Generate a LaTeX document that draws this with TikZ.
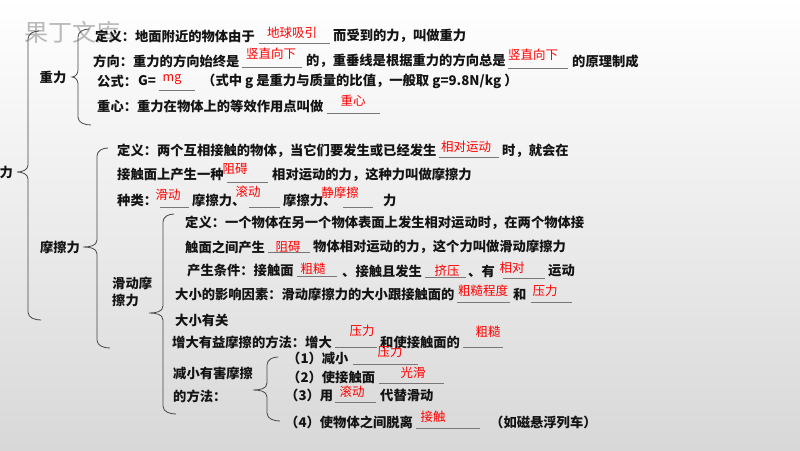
\documentclass[tikz,border=0pt]{standalone}
\usepackage{fontspec}
\setmainfont{Noto Sans CJK SC}
\definecolor{bgbot}{RGB}{216,216,216}
\definecolor{ink}{RGB}{20,20,20}
\definecolor{ansred}{RGB}{255,0,0}
\definecolor{uline}{RGB}{120,120,120}
\definecolor{brc}{RGB}{70,70,70}
\definecolor{wm}{RGB}{185,185,185}
\tikzset{
  txt/.style={anchor=west,inner sep=0pt,font=\fontsize{13.3}{15}\selectfont\bfseries,text=ink},
  lbl/.style={anchor=center,inner sep=0pt,font=\fontsize{13.3}{15}\selectfont\bfseries,text=ink},
  ans/.style={anchor=center,inner sep=0pt,font=\fontsize{12.5}{14}\selectfont,text=ansred},
  blank/.style={draw=uline,line width=1pt},
  brace/.style={draw=brc,line width=0.8pt},
}
\newcommand{\mybrace}[5]{% x, top, tipx, tipy, bottom
  \draw[brace] (#1+11,#2) to[out=180,in=90] (#1,#2+8) -- (#1,#4-7) to[out=-90,in=0] (#3,#4) to[out=0,in=90] (#1,#4+7) -- (#1,#5-8) to[out=-90,in=180] (#1+13,#5);}
\begin{document}
\begin{tikzpicture}[x=1pt,y=-1pt]
\shade[top color=white,bottom color=bgbot] (0,0) rectangle (800,450);
\useasboundingbox (0,0) rectangle (800,450);
% watermark
\node[anchor=center,inner sep=0pt,font=\fontsize{24}{26}\selectfont,text=wm] (wmk) at (72,32) {果丁文库};
% braces
\mybrace{28}{31}{17}{172}{320}
\mybrace{78}{29}{72}{77}{125}
\mybrace{97}{148}{83}{247}{348}
\mybrace{163}{214}{149}{313}{414}
\mybrace{267}{357}{253}{390}{421}
% labels
\node[lbl,anchor=east] (root) at (13,172) {力};
\node[lbl] (zl) at (53,77) {重力};
\node[lbl] (ml) at (60,247) {摩擦力};
\node[txt] (hl1) at (112,283) {滑动摩};
\node[txt] (hl2) at (112,300) {擦力};
% gravity
\node[txt] (g1a) at (95,36) {定义：地面附近的物体由于};
\node[txt] (g1b) at (333,36) {而受到的力，叫做重力};
\draw[blank] (259,43) -- (330,43);
\node[ans] (a1) at (292,33) {地球吸引};
\node[txt] (g2a) at (93,61) {方向：重力的方向始终是};
\node[txt] (g2b) at (306,61) {的，重垂线是根据重力的方向总是};
\node[txt] (g2c) at (572,61) {的原理制成};
\draw[blank] (242,67) -- (302,67);
\node[ans] (a2) at (271,54) {竖直向下};
\draw[blank] (508,68) -- (568,68);
\node[ans] (a3) at (533,55) {竖直向下};
\node[txt] (g3a) at (97,81) {公式：};
\node[txt] (g3b) at (138,81) {G=};
\node[txt] (g3c) at (202,81) {（式中 g 是重力与质量的比值，一般取 g=9.8N/kg ）};
\draw[blank] (159,90) -- (195,90);
\node[ans] (a4) at (172,80) {mg};
\node[txt] (g4a) at (97,106) {重心：重力在物体上的等效作用点叫做};
\draw[blank] (327,113) -- (380,113);
\node[ans] (a5) at (353,101) {重心};
% friction
\node[txt] (f1a) at (117,151) {定义：两个互相接触的物体，当它们要发生或已经发生};
\node[txt] (f1b) at (502,151) {时，就会在};
\draw[blank] (439,157) -- (499,157);
\node[ans] (a6) at (466,147) {相对运动};
\node[txt] (f2a) at (117,175) {接触面上产生一种};
\node[txt] (f2b) at (272,175) {相对运动的力，这种力叫做摩擦力};
\draw[blank] (227,182) -- (268,182);
\node[ans] (a7) at (235,169) {阻碍};
\node[txt] (f3a) at (117,200) {种类：};
\node[txt] (f3b) at (192,200) {摩擦力、};
\node[txt] (f3c) at (283,200) {摩擦力、};
\node[txt] (f3d) at (383,200) {力};
\draw[blank] (160,207) -- (189,207);
\node[ans] (a8) at (168,195) {滑动};
\draw[blank] (249,207) -- (280,207);
\node[ans] (a9) at (248,192) {滚动};
\draw[blank] (343,207) -- (373,207);
\node[ans] (a10) at (340,193) {静摩擦};
% sliding friction
\node[txt] (s1a) at (185,223) {定义：一个物体在另一个物体表面上发生相对运动时，在两个物体接};
\node[txt] (s2a) at (185,247) {触面之间产生};
\draw[blank] (268,252) -- (310,252);
\node[ans] (a11) at (288,247) {阻碍};
\node[txt] (s2b) at (313,247) {物体相对运动的力，这个力叫做滑动摩擦力};
\node[txt] (s3a) at (187,271) {产生条件：接触面};
\draw[blank] (297,276) -- (337,276);
\node[ans] (a12) at (313,269) {粗糙};
\node[txt] (s3b) at (342,271) {、接触且发生};
\draw[blank] (425,277) -- (466,277);
\node[ans] (a13) at (447,271) {挤压};
\node[txt] (s3c) at (468,271) {、有};
\draw[blank] (503,278) -- (545,278);
\node[ans] (a14) at (512,268) {相对};
\node[txt] (s3d) at (548,271) {运动};
\node[txt] (s4a) at (175,294) {大小的影响因素：滑动摩擦力的大小跟接触面的};
\draw[blank] (457,302) -- (510,302);
\node[ans] (a15) at (483,291) {粗糙程度};
\node[txt] (s4b) at (513,294) {和};
\draw[blank] (531,302) -- (572,302);
\node[ans] (a16) at (545,291) {压力};
\node[txt] (s5) at (175,320) {大小有关};
\node[txt] (s6a) at (172,342) {增大有益摩擦的方法：增大};
\draw[blank] (335,347) -- (377,347);
\node[ans] (a17) at (362,331) {压力};
\node[txt] (s6b) at (380,342) {和使接触面的};
\draw[blank] (463,347) -- (503,347);
\node[ans] (a18) at (488,332) {粗糙};
% reduce harmful friction
\node[txt] (r0a) at (173,373) {减小有害摩擦};
\node[txt] (r0b) at (173,396) {的方法：};
\node[txt] (r1) at (287,358) {（1）减小};
\draw[blank] (353,364) -- (418,364);
\node[ans] (a19) at (390,352) {压力};
\node[txt] (r2) at (287,377) {（2）使接触面};
\draw[blank] (379,383) -- (444,383);
\node[ans] (a20) at (413,373) {光滑};
\node[txt] (r3a) at (285,395) {（3）用};
\draw[blank] (335,402) -- (376,402);
\node[ans] (a21) at (352,392) {滚动};
\node[txt] (r3b) at (380,395) {代替滑动};
\node[txt] (r4a) at (285,422) {（4）使物体之间脱离};
\draw[blank] (416,428) -- (480,428);
\node[ans] (a22) at (433,417) {接触};
\node[txt] (r4b) at (490,422) {（如磁悬浮列车）};
\end{tikzpicture}
\end{document}
